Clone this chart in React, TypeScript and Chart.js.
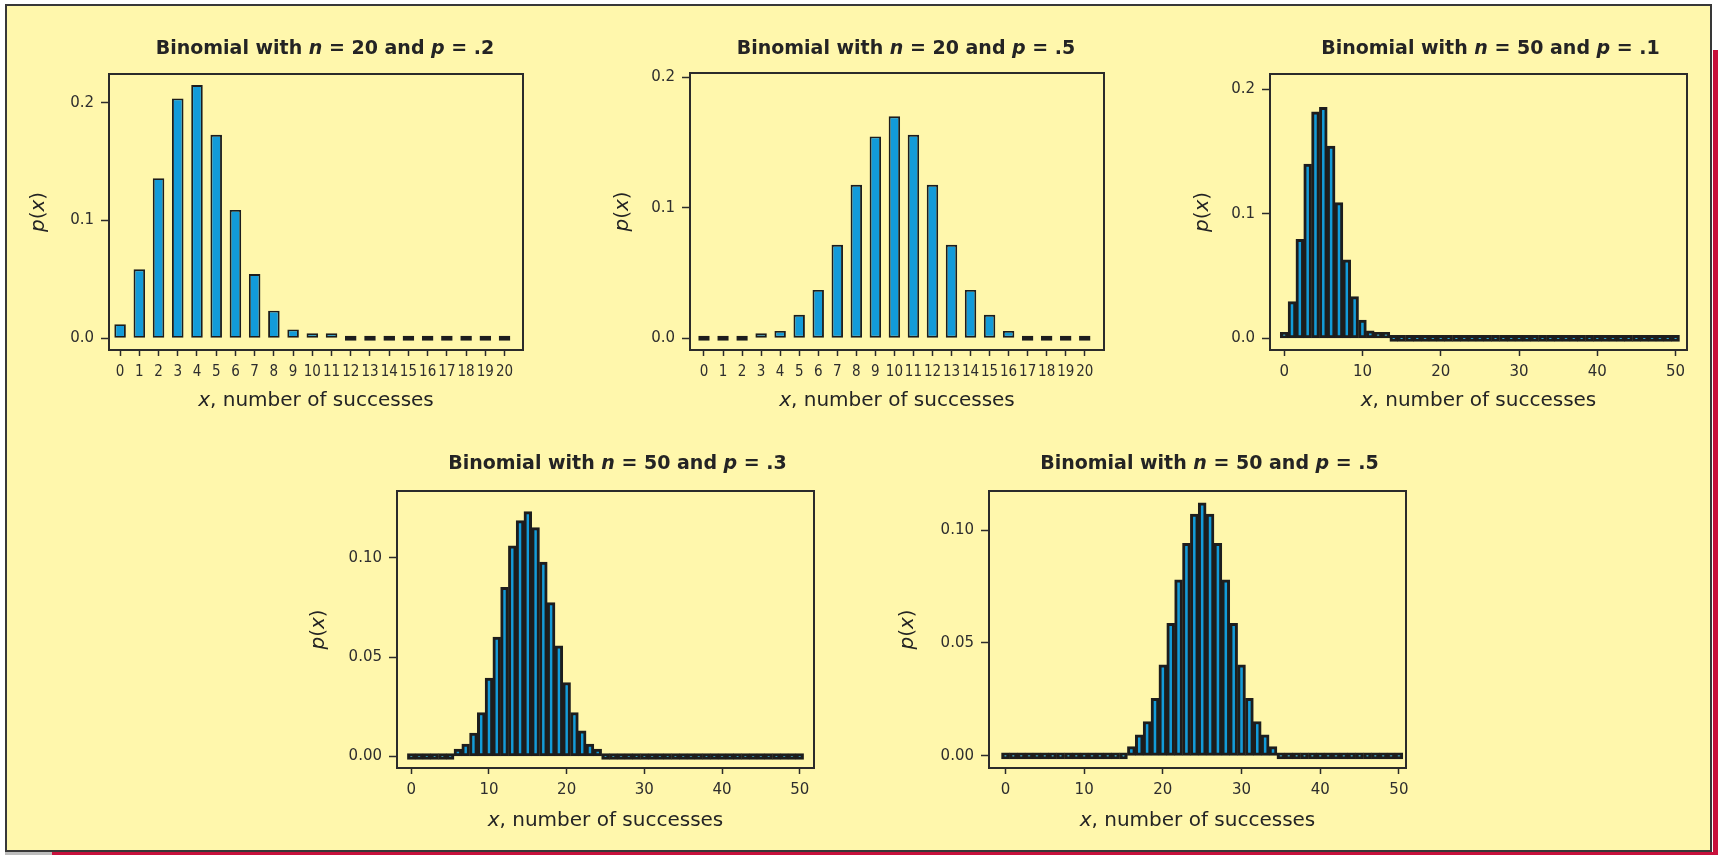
import React, { useEffect, useRef } from "react";
import { Chart, registerables } from "chart.js";

Chart.register(...registerables);

const PAGE_W = 1718;
const PAGE_H = 855;

// ---------- data ----------
const X_N20 = [0, 1, 2, 3, 4, 5, 6, 7, 8, 9, 10, 11, 12, 13, 14, 15, 16, 17, 18, 19, 20];
const X_N50 = [
  0, 1, 2, 3, 4, 5, 6, 7, 8, 9, 10, 11, 12, 13, 14, 15, 16, 17, 18, 19, 20, 21, 22, 23, 24, 25,
  26, 27, 28, 29, 30, 31, 32, 33, 34, 35, 36, 37, 38, 39, 40, 41, 42, 43, 44, 45, 46, 47, 48, 49, 50,
];

const P_N20_P2 = [
  0.012, 0.0586, 0.136, 0.2037, 0.215, 0.1728, 0.109, 0.0546, 0.0235, 0.0076, 0.0042, 0.0042,
  0, 0, 0, 0, 0, 0, 0, 0, 0,
];
const P_N20_P5 = [
  0, 0, 0, 0.0038, 0.0056, 0.0179, 0.037, 0.0715, 0.1175, 0.1545, 0.1699, 0.1558, 0.1175, 0.0715,
  0.037, 0.0179, 0.0056, 0, 0, 0, 0,
];
const P_N50_P1 = [
  0.003, 0.0295, 0.0795, 0.14, 0.182, 0.1855, 0.1545, 0.109, 0.063, 0.0335, 0.0147, 0.0059, 0.004, 0.004,
  0, 0, 0, 0, 0, 0, 0, 0, 0, 0, 0, 0, 0, 0, 0, 0, 0, 0, 0, 0, 0, 0, 0, 0, 0, 0, 0, 0, 0, 0, 0, 0, 0,
  0, 0, 0, 0,
];
const P_N50_P3 = [
  0, 0, 0, 0, 0, 0, 0.0037, 0.0062, 0.0117, 0.0221, 0.0394, 0.06, 0.0851, 0.1059, 0.1186, 0.1231,
  0.1151, 0.0977, 0.0774, 0.0556, 0.0372, 0.0221, 0.0129, 0.0062, 0.0037,
  0, 0, 0, 0, 0, 0, 0, 0, 0, 0, 0, 0, 0, 0, 0, 0, 0, 0, 0, 0, 0, 0, 0, 0, 0, 0,
];
const P_N50_P5 = [
  0, 0, 0, 0, 0, 0, 0, 0, 0, 0, 0, 0, 0, 0, 0, 0,
  0.0041, 0.0093, 0.0152, 0.0255, 0.0403, 0.0587, 0.0779, 0.0941, 0.1071, 0.1121, 0.1071, 0.0941,
  0.0779, 0.0587, 0.0403, 0.0255, 0.0152, 0.0093, 0.0041,
  0, 0, 0, 0, 0, 0, 0, 0, 0, 0, 0, 0, 0, 0, 0, 0,
];

const XTICKS_N20 = X_N20;
const XTICK_LABELS_N20 = [
  "0", "1", "2", "3", "4", "5", "6", "7", "8", "9", "10", "11", "12", "13", "14", "15", "16", "17",
  "18", "19", "20",
];
const XTICKS_N50 = [0, 10, 20, 30, 40, 50];
const XTICK_LABELS_N50 = ["0", "10", "20", "30", "40", "50"];
const YTICKS_TENTHS = [0, 0.1, 0.2];
const YTICK_LABELS_TENTHS = ["0.0", "0.1", "0.2"];
const YTICKS_TWENTIETHS = [0, 0.05, 0.1];
const YTICK_LABELS_TWENTIETHS = ["0.00", "0.05", "0.10"];

type Seg = { t: string; i?: boolean };
const makeTitle = (n: string, p: string): Seg[] => [
  { t: "Binomial with " },
  { t: "n", i: true },
  { t: " = " + n + " and " },
  { t: "p", i: true },
  { t: " = " + p },
];
const TITLE_1 = makeTitle("20", ".2");
const TITLE_2 = makeTitle("20", ".5");
const TITLE_3 = makeTitle("50", ".1");
const TITLE_4 = makeTitle("50", ".3");
const TITLE_5 = makeTitle("50", ".5");
const X_LABEL: Seg[] = [{ t: "x", i: true }, { t: ", number of successes" }];
const Y_LABEL: Seg[] = [{ t: "p", i: true }, { t: "(" }, { t: "x", i: true }, { t: ")" }];

// ---------- styles ----------
const BLUE = "#129BD9";
const EDGE = "#1d1d1d";
const PANEL = "#FFF7AC";
const RED = "#C7113C";
const TEXT = "#242424";
const FAMILY = '"DejaVu Sans", "Noto Sans", sans-serif';
const COND_FAMILY = '"DejaVu Sans Condensed", "Liberation Sans Narrow", "DejaVu Sans", sans-serif';

interface PanelSpec {
  id: string;
  title: Seg[];
  xs: number[];
  ys: number[];
  xTicks: number[];
  xTickLabels: string[];
  yTicks: number[];
  yTickLabels: string[];
  xRange: [number, number];
  yRange: [number, number];
  box: [number, number, number, number];
  barPct: number;
  borderW: number;
  zeroBorderW: number;
  minBar: number;
  xFamily: string;
  titleDx: number;
  titleGap: number;
  xLabelGap: number;
  yLabelDx: number;
}

const PANELS: PanelSpec[] = [
  {
    id: "n20p2", title: TITLE_1, xs: X_N20, ys: P_N20_P2,
    xTicks: XTICKS_N20, xTickLabels: XTICK_LABELS_N20, yTicks: YTICKS_TENTHS, yTickLabels: YTICK_LABELS_TENTHS,
    xRange: [-0.577, 20.96], yRange: [-0.0099, 0.2244], box: [109, 74, 523, 350],
    barPct: 0.6, borderW: 1.9, zeroBorderW: 2.6, minBar: 5, xFamily: COND_FAMILY,
    titleDx: 9, titleGap: 20, xLabelGap: 56, yLabelDx: 70,
  },
  {
    id: "n20p5", title: TITLE_2, xs: X_N20, ys: P_N20_P5,
    xTicks: XTICKS_N20, xTickLabels: XTICK_LABELS_N20, yTicks: YTICKS_TENTHS, yTickLabels: YTICK_LABELS_TENTHS,
    xRange: [-0.735, 21.01], yRange: [-0.009, 0.2031], box: [690, 73, 1104, 350],
    barPct: 0.6, borderW: 1.9, zeroBorderW: 2.6, minBar: 5, xFamily: COND_FAMILY,
    titleDx: 9, titleGap: 19, xLabelGap: 56, yLabelDx: 67,
  },
  {
    id: "n50p1", title: TITLE_3, xs: X_N50, ys: P_N50_P1,
    xTicks: XTICKS_N50, xTickLabels: XTICK_LABELS_N50, yTicks: YTICKS_TENTHS, yTickLabels: YTICK_LABELS_TENTHS,
    xRange: [-1.81, 51.46], yRange: [-0.0094, 0.2123], box: [1270, 74, 1687, 350],
    barPct: 1, borderW: 3, zeroBorderW: 3, minBar: 6, xFamily: FAMILY,
    titleDx: 12, titleGap: 20, xLabelGap: 56, yLabelDx: 67,
  },
  {
    id: "n50p3", title: TITLE_4, xs: X_N50, ys: P_N50_P3,
    xTicks: XTICKS_N50, xTickLabels: XTICK_LABELS_N50, yTicks: YTICKS_TWENTIETHS, yTickLabels: YTICK_LABELS_TWENTIETHS,
    xRange: [-1.84, 51.84], yRange: [-0.0058, 0.1335], box: [397, 491, 814, 768],
    barPct: 1, borderW: 3, zeroBorderW: 3, minBar: 6, xFamily: FAMILY,
    titleDx: 12, titleGap: 22, xLabelGap: 58, yLabelDx: 78,
  },
  {
    id: "n50p5", title: TITLE_5, xs: X_N50, ys: P_N50_P5,
    xTicks: XTICKS_N50, xTickLabels: XTICK_LABELS_N50, yTicks: YTICKS_TWENTIETHS, yTickLabels: YTICK_LABELS_TWENTIETHS,
    xRange: [-2.09, 50.9], yRange: [-0.0054, 0.1173], box: [989, 491, 1406, 768],
    barPct: 1, borderW: 3, zeroBorderW: 3, minBar: 6, xFamily: FAMILY,
    titleDx: 12, titleGap: 22, xLabelGap: 58, yLabelDx: 81,
  },
];

function drawRich(
  ctx: CanvasRenderingContext2D,
  segs: Seg[],
  cx: number,
  y: number,
  weight: string,
  size: number,
  baseline: CanvasTextBaseline
) {
  const fontFor = (s: Seg) => `${s.i ? "italic " : ""}${weight} ${size}px ${FAMILY}`;
  const widths: number[] = [];
  let total = 0;
  for (const s of segs) {
    ctx.font = fontFor(s);
    const w = ctx.measureText(s.t).width;
    widths.push(w);
    total += w;
  }
  let x = cx - total / 2;
  ctx.textAlign = "left";
  ctx.textBaseline = baseline;
  segs.forEach((s, k) => {
    ctx.font = fontFor(s);
    ctx.fillText(s.t, x, y);
    x += widths[k];
  });
}

function makeDecor(spec: PanelSpec) {
  return {
    id: "decor_" + spec.id,
    afterDatasetsDraw(chart: any) {
      const { ctx, chartArea: a } = chart;
      ctx.save();
      ctx.strokeStyle = "#2b2b2b";
      ctx.lineWidth = 2;
      ctx.strokeRect(a.left, a.top, a.right - a.left, a.bottom - a.top);
      ctx.restore();
    },
    afterDraw(chart: any) {
      const { ctx, chartArea: a } = chart;
      ctx.save();
      ctx.fillStyle = TEXT;
      const cx = (a.left + a.right) / 2;
      drawRich(ctx, spec.title, cx + spec.titleDx, a.top - spec.titleGap, "bold", 19, "alphabetic");
      drawRich(ctx, X_LABEL, cx, a.bottom + spec.xLabelGap, "normal", 20, "alphabetic");
      ctx.translate(a.left - spec.yLabelDx, (a.top + a.bottom) / 2);
      ctx.rotate(-Math.PI / 2);
      drawRich(ctx, Y_LABEL, 0, 0, "normal", 20, "middle");
      ctx.restore();
    },
  };
}

function BinomialPanel({ spec }: { spec: PanelSpec }) {
  const ref = useRef<HTMLCanvasElement | null>(null);
  useEffect(() => {
    const canvas = ref.current;
    if (!canvas) return;
    const [bl, bt, br, bb] = spec.box;
    const tickGrid = {
      display: true,
      drawOnChartArea: false,
      drawTicks: true,
      offset: false,
      tickColor: "#2b2b2b",
      tickWidth: 1.5,
    };
    const chart = new Chart(canvas, {
      type: "bar",
      data: {
        datasets: [
          {
            data: spec.xs.map((x, i) => ({ x, y: spec.ys[i] })),
            backgroundColor: BLUE,
            borderColor: EDGE,
            borderWidth: (c: any) => (c.raw && c.raw.y === 0 ? spec.zeroBorderW : spec.borderW),
            borderSkipped: false,
            barPercentage: spec.barPct,
            categoryPercentage: 1,
            minBarLength: spec.minBar,
            grouped: false,
          } as any,
        ],
      },
      options: {
        animation: false,
        responsive: false,
        events: [],
        layout: { padding: { left: 0, top: bt, right: PAGE_W - br, bottom: 0 } },
        plugins: {
          legend: { display: false },
          tooltip: { enabled: false },
          title: { display: false },
        },
        scales: {
          x: {
            type: "linear",
            min: spec.xRange[0],
            max: spec.xRange[1],
            offset: false,
            grid: { ...tickGrid, tickLength: 6 },
            border: { display: false },
            afterBuildTicks: (s: any) => {
              s.ticks = spec.xTicks.map((v) => ({ value: v }));
            },
            afterFit: (s: any) => {
              s.height = PAGE_H - bb;
            },
            ticks: {
              autoSkip: false,
              maxRotation: 0,
              minRotation: 0,
              padding: 7,
              color: "#2e2e2e",
              font: { family: spec.xFamily, size: 15 },
              callback: (_v: any, i: number) => spec.xTickLabels[i],
            },
          },
          y: {
            type: "linear",
            min: spec.yRange[0],
            max: spec.yRange[1],
            grid: { ...tickGrid, tickLength: 8 },
            border: { display: false },
            afterBuildTicks: (s: any) => {
              s.ticks = spec.yTicks.map((v) => ({ value: v }));
            },
            afterFit: (s: any) => {
              s.width = bl;
            },
            ticks: {
              autoSkip: false,
              padding: 7,
              color: "#2e2e2e",
              font: { family: FAMILY, size: 15 },
              callback: (_v: any, i: number) => spec.yTickLabels[i],
            },
          },
        },
      } as any,
      plugins: [makeDecor(spec)],
    });
    return () => chart.destroy();
  }, [spec]);
  return (
    <canvas
      ref={ref}
      width={PAGE_W}
      height={PAGE_H}
      style={{ position: "absolute", left: 0, top: 0, width: PAGE_W, height: PAGE_H }}
    />
  );
}

export default function App() {
  return (
    <div
      style={{
        position: "absolute",
        left: 0,
        top: 0,
        width: PAGE_W,
        height: PAGE_H,
        background: "#ffffff",
        overflow: "hidden",
      }}
    >
      <div style={{ position: "absolute", left: 1713, top: 50, width: 5, height: 805, background: RED }} />
      <div style={{ position: "absolute", left: 52, top: 852, width: 1666, height: 3, background: RED }} />
      <div style={{ position: "absolute", left: 5, top: 852, width: 47, height: 3, background: "#bdbdbd" }} />
      <div
        style={{
          position: "absolute",
          left: 5,
          top: 4,
          width: 1707,
          height: 848,
          boxSizing: "border-box",
          background: PANEL,
          border: "2.5px solid #383838",
        }}
      />
      {PANELS.map((p) => (
        <BinomialPanel key={p.id} spec={p} />
      ))}
    </div>
  );
}
